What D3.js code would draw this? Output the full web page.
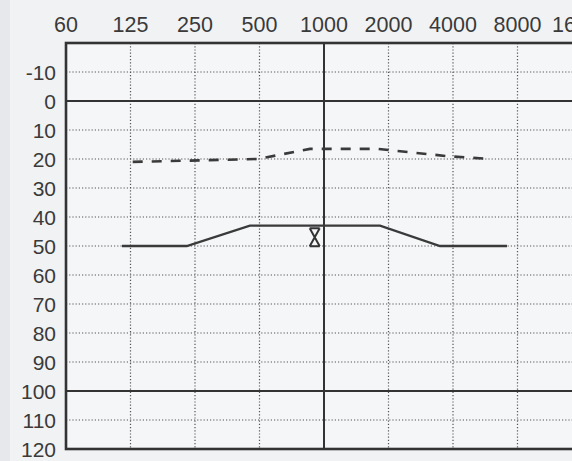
<!DOCTYPE html>
<html>
<head>
<meta charset="utf-8">
<script src="https://cdn.jsdelivr.net/npm/d3@7"></script>
<style>
  html, body { margin: 0; padding: 0; background: #f1f2f4; }
  svg { display: block; }
</style>
</head>
<body>
<svg id="chart"></svg>
<script>
// Tick labels printed on the form
const freqTicks = [62.5, 125, 250, 500, 1000, 2000, 4000, 8000, 16000];
const freqLabels = ["60", "125", "250", "500", "1000", "2000", "4000", "8000", "16000"];
const dbTicks = [-10, 0, 10, 20, 30, 40, 50, 60, 70, 80, 90, 100, 110, 120];

// Grid frequencies (dotted) and solid reference lines
const gridFreqs = [125, 250, 500, 2000, 4000, 8000];
const solidFreqs = [1000];
const solidDb = [0, 100];

// Solid trace
const solidFreq = [114, 229, 451, 1826, 3477, 7145];
const solidVal = [50, 50, 43, 43, 50, 50];

// Dashed trace
const dashFreq = [128, 492, 860, 1769, 3750, 5955];
const dashVal = [21, 20, 16.5, 16.5, 19, 20];

// Single marker near 1000 Hz
const markFreq = [905];
const markVal = [47];

const W = 572, H = 461;
const svg = d3.select("#chart").attr("width", W).attr("height", H);

// scan shading at the left edge
svg.append("rect").attr("x", 0).attr("y", 0).attr("width", 10).attr("height", H).attr("fill", "#e6e8eb");

const x = d3.scaleLog().domain([62.5, 16000]).range([66, 582]);
const y = d3.scaleLinear().domain([-20, 120]).range([43, 449]);

const plotL = x(62.5), plotR = x(16000), plotT = y(-20), plotB = y(120);

svg.append("rect")
  .attr("x", plotL).attr("y", plotT)
  .attr("width", plotR - plotL).attr("height", plotB - plotT)
  .attr("fill", "#f5f6f8");

const grid = svg.append("g").attr("id", "grid");

//Dotted grid
grid.selectAll("line.vdot")
  .data(gridFreqs)
  .join("line")
  .attr("x1", d => x(d)).attr("x2", d => x(d))
  .attr("y1", plotT).attr("y2", plotB)
  .attr("stroke", "#555").attr("stroke-width", 1.2)
  .attr("stroke-dasharray", "1.2,2");

grid.selectAll("line.hdot")
  .data(dbTicks.filter(d => d % 100 !== 0 && d < 120))
  .join("line")
  .attr("x1", plotL).attr("x2", plotR)
  .attr("y1", d => y(d)).attr("y2", d => y(d))
  .attr("stroke", "#555").attr("stroke-width", 1.2)
  .attr("stroke-dasharray", "1.2,2");

//Solid reference lines
grid.selectAll("line.vsolid")
  .data(solidFreqs)
  .join("line")
  .attr("x1", d => x(d)).attr("x2", d => x(d))
  .attr("y1", plotT).attr("y2", plotB)
  .attr("stroke", "#333").attr("stroke-width", 2);

grid.selectAll("line.hsolid")
  .data(solidDb)
  .join("line")
  .attr("x1", plotL).attr("x2", plotR)
  .attr("y1", d => y(d)).attr("y2", d => y(d))
  .attr("stroke", "#333").attr("stroke-width", 2.2);

//Frame
svg.append("rect")
  .attr("x", plotL).attr("y", plotT)
  .attr("width", plotR - plotL).attr("height", plotB - plotT)
  .attr("fill", "none").attr("stroke", "#333").attr("stroke-width", 2.6);

//Labels
svg.append("g")
  .selectAll("text")
  .data(freqTicks)
  .join("text")
  .attr("x", d => x(d))
  .attr("y", 32)
  .attr("text-anchor", "middle")
  .attr("font-family", "Liberation Sans, Arial, sans-serif")
  .attr("font-size", 21.5)
  .attr("fill", "#3a3a3a")
  .text((d, i) => freqLabels[i]);

svg.append("g")
  .selectAll("text")
  .data(dbTicks)
  .join("text")
  .attr("x", 56)
  .attr("y", d => y(d))
  .attr("dy", "0.36em")
  .attr("text-anchor", "end")
  .attr("font-family", "Liberation Sans, Arial, sans-serif")
  .attr("font-size", 21)
  .attr("fill", "#3a3a3a")
  .text(d => d);

//Traces
const line = d3.line().x(d => x(d[0])).y(d => y(d[1]));

svg.append("path")
  .datum(d3.zip(solidFreq, solidVal))
  .attr("d", line)
  .attr("fill", "none")
  .attr("stroke", "#3a3a3a").attr("stroke-width", 2.3);

svg.append("path")
  .datum(d3.zip(dashFreq, dashVal))
  .attr("d", line)
  .attr("fill", "none")
  .attr("stroke", "#3a3a3a").attr("stroke-width", 2.6)
  .attr("stroke-dasharray", "10,9");

//Marker: X closed by bars top and bottom
const mk = svg.append("g")
  .selectAll("g")
  .data(d3.zip(markFreq, markVal))
  .join("g")
  .attr("transform", d => `translate(${x(d[0])},${y(d[1])})`);

mk.append("path")
  .attr("d", "M-5,-9 L5,-9 M-5,9 L5,9 M-5,-9 L5,9 M5,-9 L-5,9")
  .attr("fill", "none")
  .attr("stroke", "#333").attr("stroke-width", 2);
</script>
</body>
</html>
